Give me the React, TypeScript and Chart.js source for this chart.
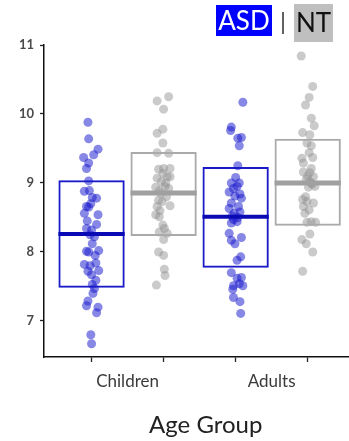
import React, { useEffect, useRef } from 'react';
import { Chart, registerables } from 'chart.js';

Chart.register(...registerables);

// ---- data ----
const groups = ['Children', 'Adults'];
const groupCenters = [1.5, 3.5];
const asdSlots = [1, 3];
const ntSlots = [2, 4];
const tickSlots = [1, 2, 3, 4];
const yTicks = [7, 8, 9, 10, 11];

const asdQ1 = [7.48, 7.77];
const asdMedian = [8.26, 8.51];
const asdQ3 = [9.04, 9.23];
const ntQ1 = [8.23, 8.38];
const ntMedian = [8.855, 9.0];
const ntQ3 = [9.45, 9.64];

const asdChildrenValues = [9.88, 9.64, 9.49, 9.41, 9.37, 9.29, 9.21, 9.03, 8.88, 8.89, 8.79, 8.78, 8.70, 8.66, 8.65, 8.56, 8.54, 8.45, 8.40, 8.34, 8.32, 8.25, 8.22, 8.12, 8.01, 8.00, 8.02, 7.95, 7.82, 7.80, 7.84, 7.72, 7.73, 7.67, 7.59, 7.53, 7.47, 7.40, 7.29, 7.22, 7.20, 7.12, 6.80, 6.67];
const asdChildrenJitter = [-0.05, -0.04, 0.09, 0.03, -0.11, -0.04, -0.07, -0.04, -0.10, -0.03, 0.01, 0.07, -0.01, -0.07, -0.04, -0.10, 0.09, -0.06, 0.07, -0.07, 0.0, -0.02, 0.04, 0.01, -0.07, -0.04, 0.10, 0.05, -0.10, -0.02, 0.06, -0.05, 0.10, 0.0, 0.06, 0.01, 0.04, 0.02, -0.05, -0.07, 0.09, 0.07, -0.01, 0.0];

const ntChildrenValues = [10.25, 10.19, 10.07, 9.78, 9.72, 9.58, 9.44, 9.43, 9.20, 9.21, 9.21, 9.14, 9.07, 9.09, 9.02, 9.09, 8.94, 8.95, 8.89, 8.92, 8.75, 8.67, 8.66, 8.73, 8.54, 8.51, 8.39, 8.34, 8.29, 8.27, 8.18, 8.00, 7.95, 7.75, 7.66, 7.52, 8.85, 8.80, 9.00, 8.60];
const ntChildrenJitter = [0.07, -0.09, 0.0, -0.01, -0.09, -0.01, -0.09, 0.07, -0.07, 0.0, 0.09, -0.01, -0.09, 0.05, -0.03, 0.09, -0.11, 0.02, -0.06, 0.07, -0.07, 0.09, -0.09, -0.02, -0.11, -0.06, -0.01, 0.01, -0.06, 0.05, 0.0, -0.07, 0.0, 0.01, 0.02, -0.10, -0.04, 0.04, 0.03, -0.05];

const asdAdultsValues = [10.17, 9.81, 9.76, 9.65, 9.66, 9.54, 9.25, 9.08, 9.00, 9.00, 8.92, 8.87, 8.84, 8.81, 8.78, 8.71, 8.66, 8.63, 8.56, 8.44, 8.42, 8.47, 8.27, 8.21, 8.17, 8.12, 7.93, 7.88, 7.70, 7.62, 7.63, 7.51, 7.54, 7.51, 7.46, 7.34, 7.28, 7.11, 8.52, 8.50, 8.95, 8.58];
const asdAdultsJitter = [0.10, -0.06, -0.07, 0.03, 0.08, 0.05, 0.03, 0.0, -0.06, 0.05, -0.03, -0.09, 0.06, -0.01, 0.08, -0.06, 0.04, -0.09, -0.02, 0.02, -0.06, -0.03, -0.09, 0.08, -0.06, -0.01, 0.07, 0.02, -0.06, 0.02, 0.08, -0.03, 0.05, 0.10, -0.04, -0.03, 0.06, 0.07, -0.05, 0.03, 0.02, 0.06];

const ntAdultsValues = [10.84, 10.40, 10.24, 10.13, 9.94, 9.83, 9.73, 9.70, 9.58, 9.54, 9.44, 9.37, 9.36, 9.29, 9.21, 9.16, 9.15, 9.09, 9.05, 9.00, 8.95, 8.94, 8.76, 8.73, 8.71, 8.66, 8.61, 8.56, 8.44, 8.43, 8.43, 8.26, 8.18, 8.12, 8.00, 7.72, 9.02, 8.98, 9.10, 8.80];
const ntAdultsJitter = [-0.09, 0.07, 0.02, -0.03, 0.05, 0.09, -0.07, 0.03, -0.01, 0.05, 0.02, 0.07, -0.08, -0.06, 0.05, -0.06, 0.03, 0.08, -0.02, 0.05, 0.10, 0.01, -0.07, -0.01, 0.08, -0.06, 0.02, -0.04, 0.05, 0.11, -0.01, 0.03, -0.08, -0.02, 0.07, -0.07, 0.03, 0.06, 0.0, -0.03];

const BOX_FRACTION = 0.92;
const X_MIN = 0.34;
const X_MAX = 4.83;

const strip = (center: number, values: number[], jitter: number[]) =>
  values.map((v, i) => ({ x: center + jitter[i], y: v }));

export default function App() {
  const ref = useRef<HTMLCanvasElement | null>(null);

  useEffect(() => {
    const canvas = ref.current;
    if (!canvas) return;

    const ASD_PT = 'rgba(25,25,205,0.52)';
    const NT_PT = 'rgba(150,150,150,0.5)';
    const ASD_LINE = 'rgb(25,25,200)';
    const ASD_MED = 'rgb(10,10,180)';
    const NT_LINE = 'rgb(170,170,170)';
    const NT_MED = 'rgb(160,160,160)';

    const halfBoxPx = (ctx: any) => {
      const xs = ctx.chart.scales.x;
      return Math.abs(xs.getPixelForValue(BOX_FRACTION / 2) - xs.getPixelForValue(0));
    };

    const pointCommon = {
      type: 'scatter' as const,
      pointRadius: 4.5,
      pointBorderWidth: 0,
      order: 3,
    };

    const boxCommon = {
      type: 'bar' as const,
      backgroundColor: 'rgba(0,0,0,0)',
      borderWidth: 2,
      borderSkipped: false,
      grouped: false,
      barPercentage: BOX_FRACTION,
      categoryPercentage: 1,
      order: 2,
    };

    const chart = new Chart(canvas, {
      type: 'scatter',
      data: {
        datasets: [
          { ...pointCommon, label: 'ASD Children', data: strip(asdSlots[0], asdChildrenValues, asdChildrenJitter), backgroundColor: ASD_PT },
          { ...pointCommon, label: 'NT Children', data: strip(ntSlots[0], ntChildrenValues, ntChildrenJitter), backgroundColor: NT_PT },
          { ...pointCommon, label: 'ASD Adults', data: strip(asdSlots[1], asdAdultsValues, asdAdultsJitter), backgroundColor: ASD_PT },
          { ...pointCommon, label: 'NT Adults', data: strip(ntSlots[1], ntAdultsValues, ntAdultsJitter), backgroundColor: NT_PT },
          {
            ...boxCommon,
            label: 'ASD box',
            data: asdSlots.map((s, i) => ({ x: s, y: [asdQ1[i], asdQ3[i]] })),
            borderColor: ASD_LINE,
          } as any,
          {
            ...boxCommon,
            label: 'NT box',
            data: ntSlots.map((s, i) => ({ x: s, y: [ntQ1[i], ntQ3[i]] })),
            borderColor: NT_LINE,
          } as any,
          {
            type: 'scatter' as const,
            label: 'ASD median',
            data: asdSlots.map((s, i) => ({ x: s, y: asdMedian[i] })),
            pointStyle: 'line',
            pointRadius: halfBoxPx,
            pointBorderWidth: 4,
            pointBorderColor: ASD_MED,
            borderColor: ASD_MED,
            order: 1,
          } as any,
          {
            type: 'scatter' as const,
            label: 'NT median',
            data: ntSlots.map((s, i) => ({ x: s, y: ntMedian[i] })),
            pointStyle: 'line',
            pointRadius: halfBoxPx,
            pointBorderWidth: 5,
            pointBorderColor: NT_MED,
            borderColor: NT_MED,
            order: 1,
          } as any,
        ],
      },
      options: {
        responsive: false,
        animation: false,
        events: [],
        devicePixelRatio: 1,
        layout: { padding: { top: 45, left: 0, right: 0, bottom: 0 } },
        plugins: {
          legend: { display: false },
          tooltip: { enabled: false },
        },
        scales: {
          x: {
            type: 'linear',
            position: 'bottom',
            weight: 0,
            min: X_MIN,
            max: X_MAX,
            offset: false,
            afterBuildTicks: (scale: any) => {
              scale.ticks = tickSlots.map((v) => ({ value: v }));
            },
            ticks: { display: false },
            grid: {
              display: true,
              drawOnChartArea: false,
              drawTicks: true,
              tickLength: 5,
              tickWidth: 1.3,
              offset: false,
              tickColor: '#222',
            },
            border: { display: true, color: '#111', width: 1.5 },
          },
          xGroups: {
            type: 'linear',
            position: 'bottom',
            weight: 1,
            min: X_MIN,
            max: X_MAX,
            offset: false,
            afterBuildTicks: (scale: any) => {
              scale.ticks = groupCenters.map((v) => ({ value: v }));
            },
            afterFit: (scale: any) => {
              scale.height = 79;
            },
            ticks: {
              autoSkip: false,
              maxRotation: 0,
              minRotation: 0,
              padding: 9,
              color: '#3a3a3a',
              font: { family: 'Lato', size: 17 },
              callback: (v: any) => {
                const i = groupCenters.indexOf(Number(v));
                return i >= 0 ? groups[i] : '';
              },
            },
            grid: { display: false, drawOnChartArea: false, drawTicks: false },
            border: { display: false },
            title: {
              display: true,
              text: 'Age Group',
              color: '#222',
              font: { family: 'Lato', size: 24 },
              padding: { top: 4, bottom: 1 },
            },
          },
          y: {
            type: 'linear',
            min: 6.478,
            max: 11,
            afterBuildTicks: (scale: any) => {
              scale.ticks = yTicks.map((v) => ({ value: v }));
            },
            afterFit: (scale: any) => {
              scale.width = 44;
            },
            ticks: {
              padding: 6,
              color: '#4a4a4a',
              font: { family: 'Lato', size: 13, weight: 'bold' },
            },
            grid: {
              display: true,
              drawOnChartArea: false,
              drawTicks: true,
              tickLength: 4,
              tickWidth: 1.3,
              tickColor: '#222',
            },
            border: { display: true, color: '#111', width: 1.5 },
          },
        },
      } as any,
    });

    return () => chart.destroy();
  }, []);

  const legendFont = 'Lato, "Open Sans", sans-serif';

  return (
    <div
      style={{
        position: 'absolute',
        left: 0,
        top: 0,
        width: 349,
        height: 441,
        overflow: 'hidden',
        background: '#fff',
      }}
    >
      <canvas
        ref={ref}
        width={372}
        height={441}
        style={{ position: 'absolute', left: 0, top: 0, width: 372, height: 441 }}
      />
      <div
        style={{
          position: 'absolute',
          left: 216,
          top: 5,
          width: 56,
          height: 31,
          background: '#0000ff',
          color: '#fff',
          fontFamily: legendFont,
          fontSize: 26,
          lineHeight: '31px',
          textAlign: 'center',
        }}
      >
        ASD
      </div>
      <div
        style={{
          position: 'absolute',
          left: 278,
          top: 4,
          width: 10,
          height: 34,
          color: '#444',
          fontFamily: legendFont,
          fontSize: 24,
          lineHeight: '34px',
          textAlign: 'center',
        }}
      >
        |
      </div>
      <div
        style={{
          position: 'absolute',
          left: 294,
          top: 4,
          width: 39,
          height: 38,
          background: '#bfbfbf',
          color: '#111',
          fontFamily: legendFont,
          fontSize: 26,
          lineHeight: '36px',
          textAlign: 'center',
        }}
      >
        NT
      </div>
    </div>
  );
}
